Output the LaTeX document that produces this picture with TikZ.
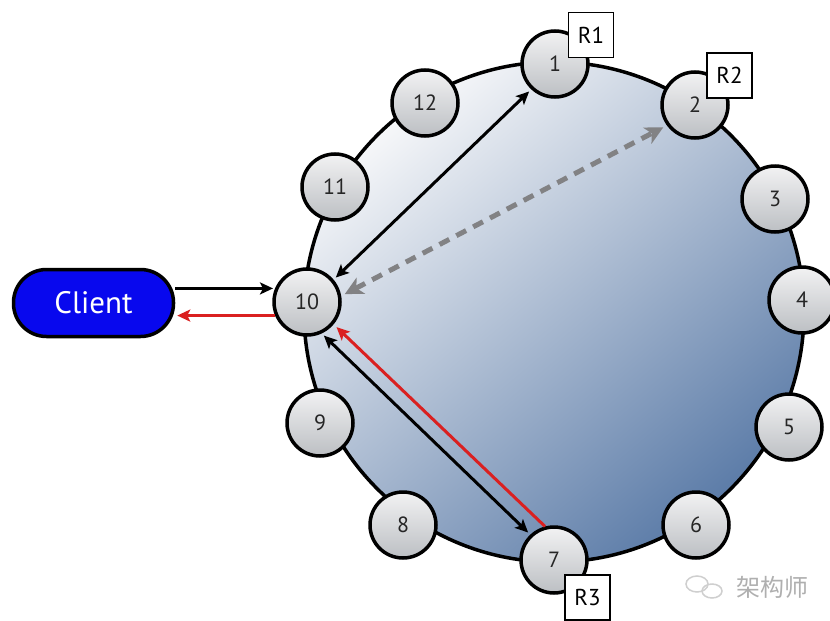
\documentclass[tikz,border=0pt]{standalone}
\usepackage{fontspec}
\setmainfont{PT Sans}
\newfontfamily\cjk{Noto Sans CJK SC}
\usetikzlibrary{arrows.meta}
\definecolor{ringlight}{RGB}{246,247,249}
\definecolor{ringmid}{RGB}{220,226,235}
\definecolor{ringdark}{RGB}{92,124,168}
\definecolor{nodetop}{RGB}{242,242,243}
\definecolor{nodebot}{RGB}{188,191,195}
\definecolor{clientblue}{RGB}{8,8,238}
\definecolor{arrred}{RGB}{218,32,32}
\definecolor{arrgrey}{RGB}{130,130,132}
\definecolor{wmgrey}{RGB}{175,175,175}
\begin{document}
\begin{tikzpicture}[x=1pt,y=-1pt,
  nd/.style={circle, draw=black, line width=3.5pt, minimum size=66pt, inner sep=0pt,
    top color=nodetop, bottom color=nodebot, text=black!85,
    font=\fontsize{22pt}{22pt}\selectfont},
  rbox/.style={draw=black, line width=1.6pt, fill=white, minimum size=45pt, inner sep=0pt,
    font=\fontsize{23pt}{23pt}\selectfont},
  blkarrow/.style={line width=3pt, draw=black,
    {Stealth[length=13pt,width=12pt,inset=3pt]}-{Stealth[length=13pt,width=12pt,inset=3pt]},
    shorten <=3pt, shorten >=3pt},
  onearrow/.style={line width=3pt, -{Stealth[length=13pt,width=12pt,inset=3pt]}},
  dasharrow/.style={line width=5pt, draw=arrgrey, dash pattern=on 11pt off 8pt,
    {Stealth[length=18pt,width=18pt,inset=5pt]}-{Stealth[length=18pt,width=18pt,inset=5pt]},
    shorten <=4pt, shorten >=4pt},
  clientbox/.style={draw=black, line width=3.5pt, fill=clientblue, rounded corners=33pt,
    minimum width=160pt, minimum height=67pt, text=white,
    font=\fontsize{31pt}{31pt}\selectfont}
]
\useasboundingbox (0,0) rectangle (830,621);
\fill[white] (0,0) rectangle (830,621);

% ring
\shade[shading=axis, top color=ringlight, middle color=ringmid, bottom color=ringdark, shading angle=40]
  (554,312) circle[radius=250];
\draw[line width=3.5pt] (554,312) circle[radius=250];

% nodes
\node[nd] (n1)  at (555,64)  {1};
\node[nd] (n2)  at (695,105) {2};
\node[nd] (n3)  at (775,199) {3};
\node[nd] (n4)  at (802,300) {4};
\node[nd] (n5)  at (789,427) {5};
\node[nd] (n6)  at (696,525) {6};
\node[nd] (n7)  at (554,560) {7};
\node[nd] (n8)  at (403,525) {8};
\node[nd] (n9)  at (320,423) {9};
\node[nd] (n10) at (307,302) {10};
\node[nd] (n11) at (335,187) {11};
\node[nd] (n12) at (425,103) {12};

% replica labels
\node[rbox] (r1) at (591,35) {R1};
\node[rbox] (r2) at (729.5,75.5) {R2};
\node[rbox] (r3) at (587.5,597.5) {R3};

% client
\node[clientbox] (client) at (93.5,303) {Client};

% connectors
\draw[blkarrow] (n10.40) -- (n1.227);
\draw[dasharrow] (n10.10) -- (n2.216);
\draw[blkarrow] (n10.-65) -- (n7.133);
\draw[onearrow, draw=arrred, shorten >=4pt] (n7.105) -- (n10.-40);
\draw[onearrow, draw=black, shorten >=2pt] (n10.157 -| client.east) -- (n10.157);
\draw[onearrow, draw=arrred, shorten >=2pt] (n10.203) -- (n10.203 -| client.east);

% watermark
\draw[wmgrey!60, line width=1.5pt] (697,584) ellipse[x radius=11pt, y radius=8pt];
\draw[wmgrey!60, line width=1.5pt] (712,591) ellipse[x radius=10pt, y radius=7pt];
\node[text=wmgrey, font=\cjk\fontsize{24pt}{24pt}\selectfont, anchor=west] (wm) at (733,587) {架构师};
\end{tikzpicture}
\end{document}
